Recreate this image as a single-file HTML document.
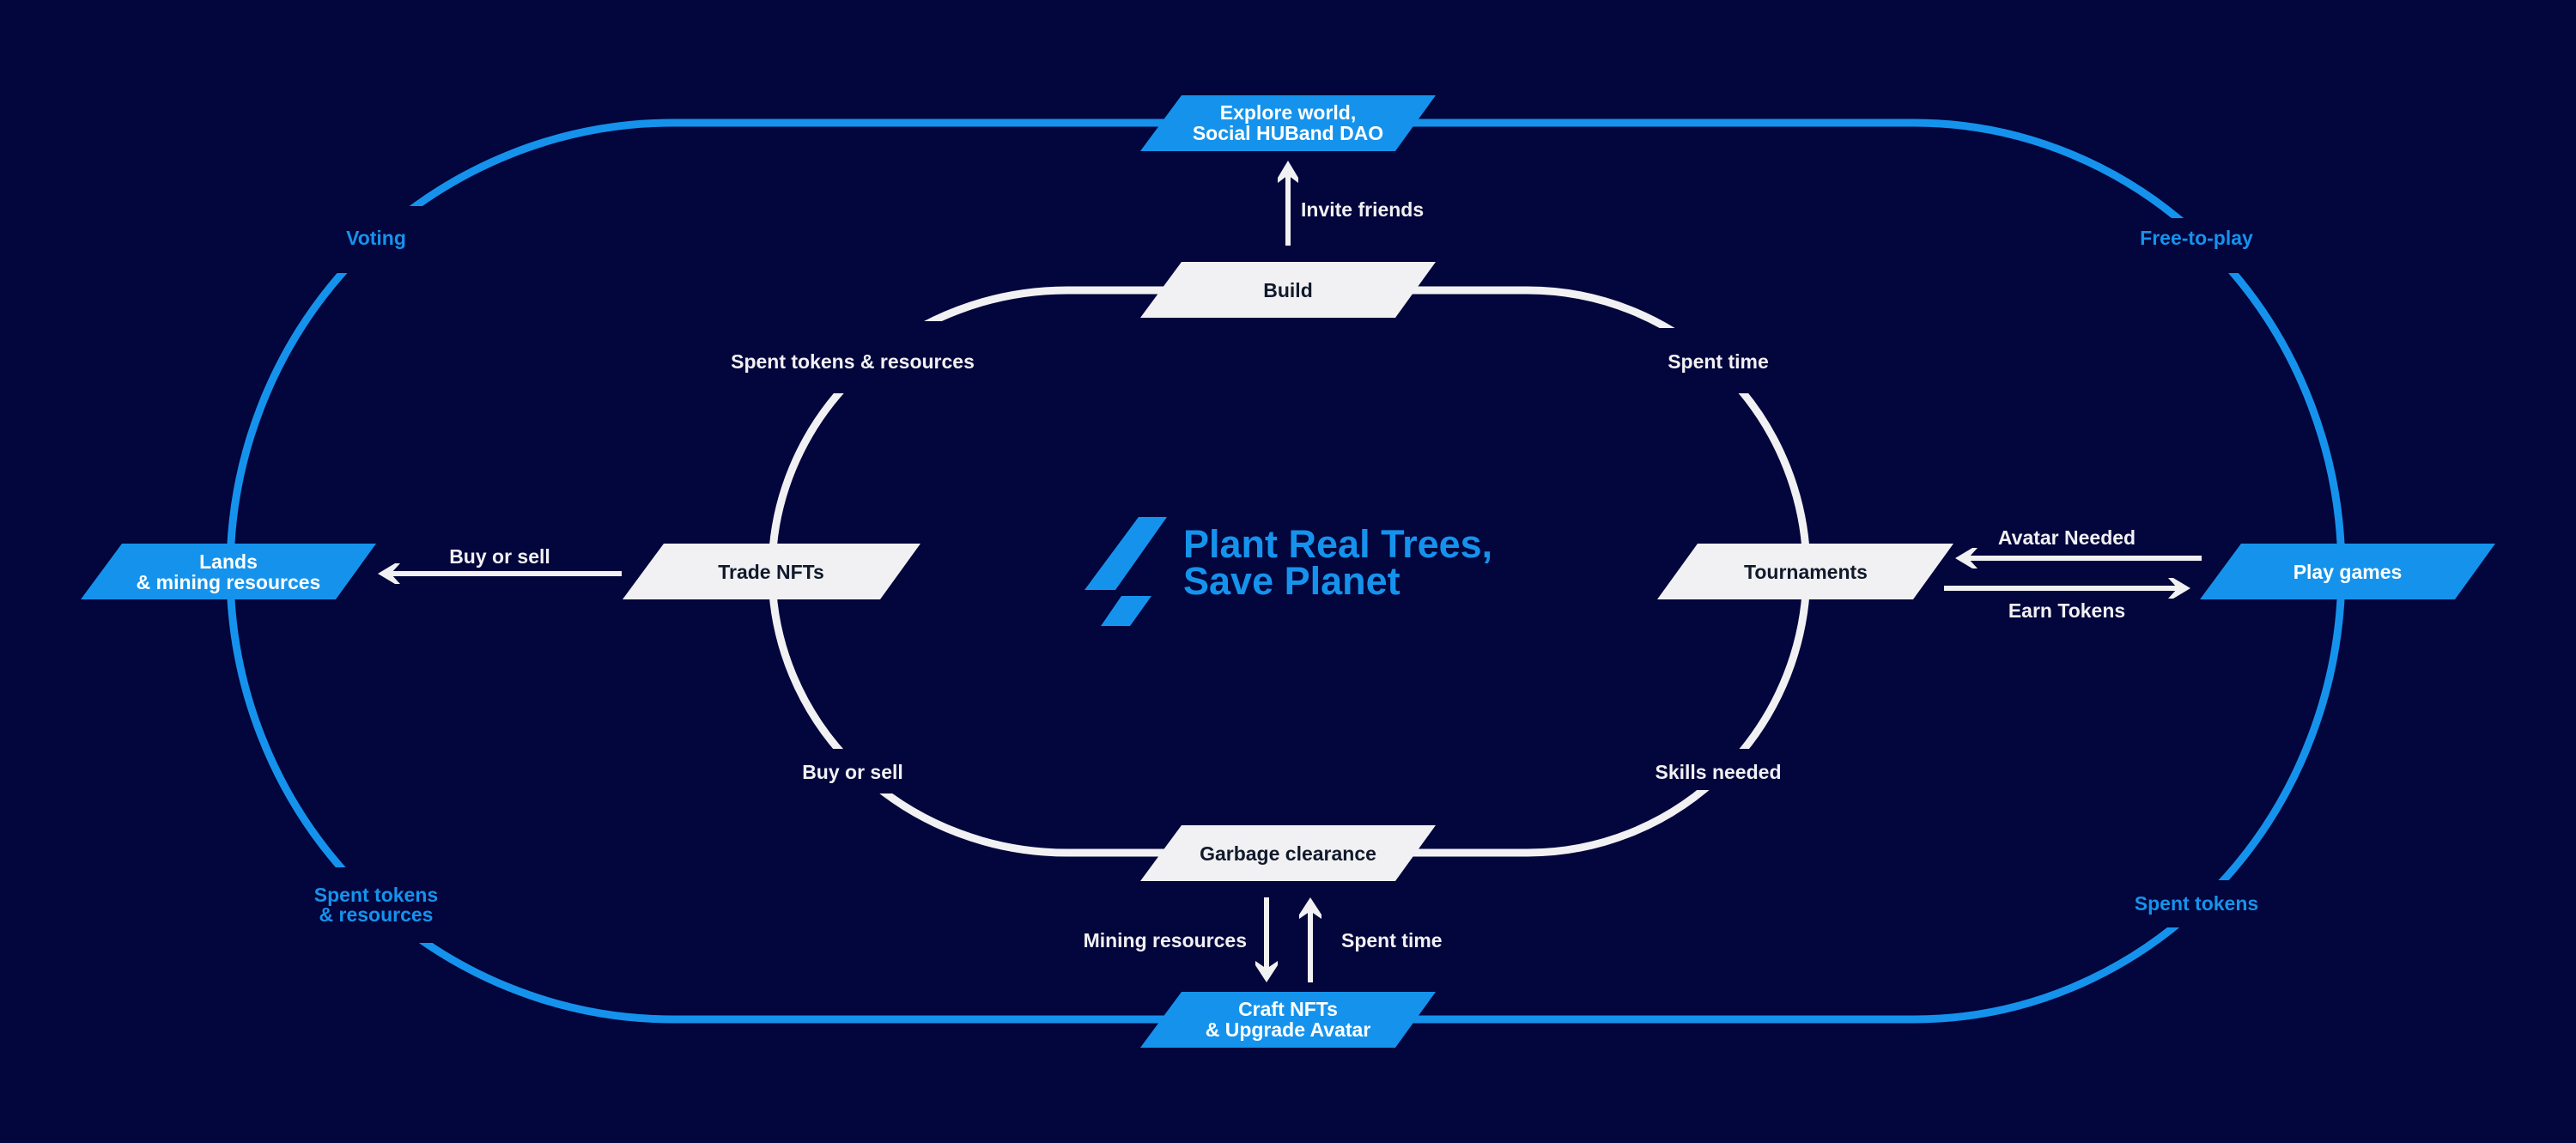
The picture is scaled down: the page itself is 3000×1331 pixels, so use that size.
<!DOCTYPE html>
<html><head><meta charset="utf-8"><style>
html,body{margin:0;padding:0;background:#03053d;}
svg{display:block;}
text{font-family:"Liberation Sans",sans-serif;font-weight:bold;}
</style></head><body>
<svg width="3000" height="1331" viewBox="0 0 3000 1331" xmlns="http://www.w3.org/2000/svg">
<rect width="3000" height="1331" fill="#03053d"/>
<!-- outer loop -->
<path d="M784 143 L2229 143 A497 521 0 0 1 2229 1187 L784 1187 A516 522 0 0 1 784 143 Z" fill="none" stroke="#1593ec" stroke-width="9"/>
<!-- inner loop -->
<path d="M1243 338 L1779 338 A325 327.5 0 0 1 1779 993 L1243 993 A344 327.5 0 0 1 1243 338 Z" fill="none" stroke="#f1f1f3" stroke-width="9"/>
<!-- gap masks -->
<g fill="#03053d">
<rect x="370" y="240" width="140" height="78"/>
<rect x="2500" y="254" width="130" height="64"/>
<rect x="340" y="1010" width="175" height="88"/>
<rect x="2480" y="1025" width="140" height="55"/>
<rect x="830" y="374" width="330" height="84"/>
<rect x="1920" y="382" width="130" height="76"/>
<rect x="900" y="872" width="140" height="52"/>
<rect x="1900" y="872" width="140" height="48"/>
</g>
<!-- nodes -->
<g>
<polygon points="1376,111 1672,111 1625,176 1328,176" fill="#1593ec"/>
<polygon points="1376,305 1672,305 1625,370 1328,370" fill="#f1f1f3"/>
<polygon points="1376,961 1672,961 1625,1026 1328,1026" fill="#f1f1f3"/>
<polygon points="1376,1155 1672,1155 1625,1220 1328,1220" fill="#1593ec"/>
<polygon points="773,633 1072,633 1025,698 725,698" fill="#f1f1f3"/>
<polygon points="142,633 438,633 391,698 94,698" fill="#1593ec"/>
<polygon points="1977,633 2275,633 2228,698 1930,698" fill="#f1f1f3"/>
<polygon points="2610,633 2906,633 2859,698 2562,698" fill="#1593ec"/>
</g>
<!-- arrows -->
<g stroke="#f1f1f3" stroke-width="6" fill="none">
<line x1="1500" y1="192" x2="1500" y2="286"/>
<line x1="446" y1="668" x2="724" y2="668"/>
<line x1="2284" y1="650" x2="2564" y2="650"/>
<line x1="2264" y1="685" x2="2544" y2="685"/>
<line x1="1475" y1="1045" x2="1475" y2="1138"/>
<line x1="1526" y1="1050" x2="1526" y2="1144"/>
</g>
<g fill="#f1f1f3">
<polygon points="1500,187 1512,207 1512,213 1500,204 1488,213 1488,207"/>
<polygon points="440,668 460,656 466,656 455,668 466,680 460,680"/>
<polygon points="2277,650 2297,638 2303,638 2292,650 2303,662 2297,662"/>
<polygon points="2551,685 2531,673 2525,673 2536,685 2525,697 2531,697"/>
<polygon points="1475,1144 1462,1124 1462,1119 1475,1128 1488,1119 1488,1124"/>
<polygon points="1526,1045 1539,1065 1539,1070 1526,1061 1513,1070 1513,1065"/>
</g>
<!-- logo -->
<g fill="#1593ec">
<polygon points="1326,602 1359,602 1299,687 1263,687"/>
<polygon points="1306,694 1341,694 1316,729 1282,729"/>
<text x="1378" y="649" font-size="45">Plant Real Trees,</text>
<text x="1378" y="692" font-size="45">Save Planet</text>
</g>
<!-- node labels -->
<g font-size="23" text-anchor="middle">
<text x="1500" y="139" fill="#fff">Explore world,</text>
<text x="1500" y="163" fill="#fff">Social HUBand DAO</text>
<text x="1500" y="346" fill="#111a2c">Build</text>
<text x="1500" y="1002" fill="#111a2c">Garbage clearance</text>
<text x="1500" y="1183" fill="#fff">Craft NFTs</text>
<text x="1500" y="1207" fill="#fff">&amp; Upgrade Avatar</text>
<text x="898" y="674" fill="#111a2c">Trade NFTs</text>
<text x="266" y="662" fill="#fff">Lands</text>
<text x="266" y="686" fill="#fff">&amp; mining resources</text>
<text x="2103" y="674" fill="#111a2c">Tournaments</text>
<text x="2734" y="674" fill="#fff">Play games</text>
</g>
<!-- connector labels white -->
<g font-size="23" fill="#f1f1f3">
<text x="1515" y="252">Invite friends</text>
<text x="582" y="656" text-anchor="middle">Buy or sell</text>
<text x="2407" y="634" text-anchor="middle">Avatar Needed</text>
<text x="2407" y="719" text-anchor="middle">Earn Tokens</text>
<text x="1452" y="1103" text-anchor="end">Mining resources</text>
<text x="1562" y="1103">Spent time</text>
<text x="993" y="429" text-anchor="middle">Spent tokens &amp; resources</text>
<text x="2001" y="429" text-anchor="middle">Spent time</text>
<text x="993" y="907" text-anchor="middle">Buy or sell</text>
<text x="2001" y="907" text-anchor="middle">Skills needed</text>
</g>
<!-- outer labels blue -->
<g font-size="23" fill="#1593ec" text-anchor="middle">
<text x="438" y="285">Voting</text>
<text x="2558" y="285">Free-to-play</text>
<text x="438" y="1050">Spent tokens</text>
<text x="438" y="1073">&amp; resources</text>
<text x="2558" y="1060">Spent tokens</text>
</g>
</svg>
</body></html>
